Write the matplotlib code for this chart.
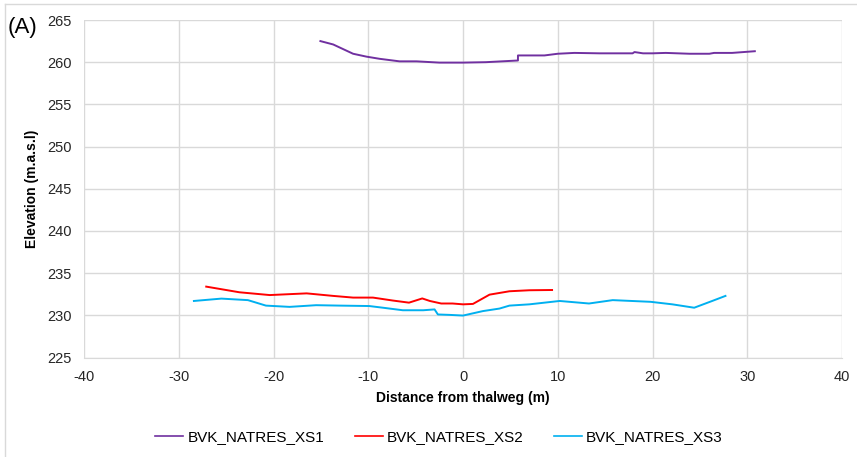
import matplotlib
matplotlib.use("Agg")
import matplotlib.pyplot as plt
from matplotlib.lines import Line2D

plt.rcParams['font.family'] = ['Liberation Sans', 'DejaVu Sans']
plt.rcParams['axes.unicode_minus'] = False

xs1_x = [-15.05, -13.7, -11.6, -10.2, -8.8, -6.7, -4.9, -2.5, 0.0, 2.4, 5.8, 5.8, 8.6, 10.0,
         11.75, 14.4, 17.9, 18.1, 19.0, 20.0, 21.4, 23.9, 26.0, 26.5, 28.4, 30.8]
xs1_y = [262.5, 262.1, 261.0, 260.66, 260.4, 260.1, 260.1, 259.95, 259.95, 260.0, 260.2, 260.8,
         260.8, 261.0, 261.1, 261.05, 261.05, 261.2, 261.05, 261.05, 261.1, 261.0, 261.0, 261.1,
         261.1, 261.3]

xs2_x = [-27.1, -23.6, -20.4, -16.5, -13.7, -11.6, -9.5, -7.4, -5.7, -4.3, -3.5, -2.3, -1.1,
         0.0, 1.05, 2.8, 4.9, 7.0, 9.4]
xs2_y = [233.4, 232.73, 232.4, 232.6, 232.3, 232.1, 232.1, 231.75, 231.5, 232.0, 231.7, 231.4,
         231.4, 231.3, 231.35, 232.45, 232.85, 232.97, 233.0]

xs3_x = [-28.4, -25.5, -22.7, -20.8, -18.3, -15.5, -13.0, -9.9, -8.45, -6.35, -4.2, -3.0, -2.65,
         -1.4, 0.0, 2.1, 3.85, 4.9, 7.0, 10.2, 13.3, 15.8, 19.8, 22.1, 24.4, 26.3, 27.7]
xs3_y = [231.7, 231.98, 231.8, 231.15, 231.0, 231.2, 231.15, 231.1, 230.9, 230.6, 230.6, 230.7,
         230.1, 230.05, 229.97, 230.5, 230.8, 231.15, 231.3, 231.7, 231.4, 231.8, 231.6, 231.3,
         230.9, 231.7, 232.3]

series_names = ["BVK_NATRES_XS1", "BVK_NATRES_XS2", "BVK_NATRES_XS3"]
series_colors = ["#7030A0", "#FF0000", "#00B0F0"]

fig = plt.figure(figsize=(8.57, 4.57), dpi=100)
W, H = 857, 457
left, right, top, bottom = 84, 842, 20, 357.5
ax = fig.add_axes([left / W, 1 - bottom / H, (right - left) / W, (bottom - top) / H])

for (x, y), name, c in zip([(xs1_x, xs1_y), (xs2_x, xs2_y), (xs3_x, xs3_y)], series_names, series_colors):
    ax.plot(x, y, color=c, lw=1.4, label=name, solid_joinstyle='round')

ax.set_xlim(-40, 40)
ax.set_ylim(225, 265)
ax.set_xticks(range(-40, 41, 10))
ax.set_yticks(range(225, 266, 5))
ax.grid(True, color='#d9d9d9', lw=1)
ax.set_axisbelow(True)
for s in ['top', 'right', 'left']:
    ax.spines[s].set_visible(False)
ax.spines['bottom'].set_color('#d9d9d9')
ax.tick_params(length=0, labelsize=10.5, colors='#262626', pad=9)
ax.set_xlabel("Distance from thalweg (m)", fontsize=10, fontweight='bold', labelpad=5)
ax.set_ylabel("Elevation (m.a.s.l)", fontsize=10, fontweight='bold', labelpad=6)

handles = [Line2D([], [], color=c, lw=1.2) for c in series_colors]
fig.legend(handles, series_names, loc='center', bbox_to_anchor=(439 / W, 1 - 437 / H), ncol=3,
           frameon=False, fontsize=11, handlelength=1.85, handletextpad=0.25, columnspacing=2.0)

fig.text(8 / W, 1 - 27 / H, "(A)", fontsize=16, va='center', ha='left')

fig.add_artist(Line2D([5 / W, 1], [1 - 4 / H, 1 - 4 / H], color='#d9d9d9', lw=1))
fig.add_artist(Line2D([5 / W, 5 / W], [0, 1 - 4 / H], color='#d9d9d9', lw=1))

fig.savefig("out.png", dpi=100)
